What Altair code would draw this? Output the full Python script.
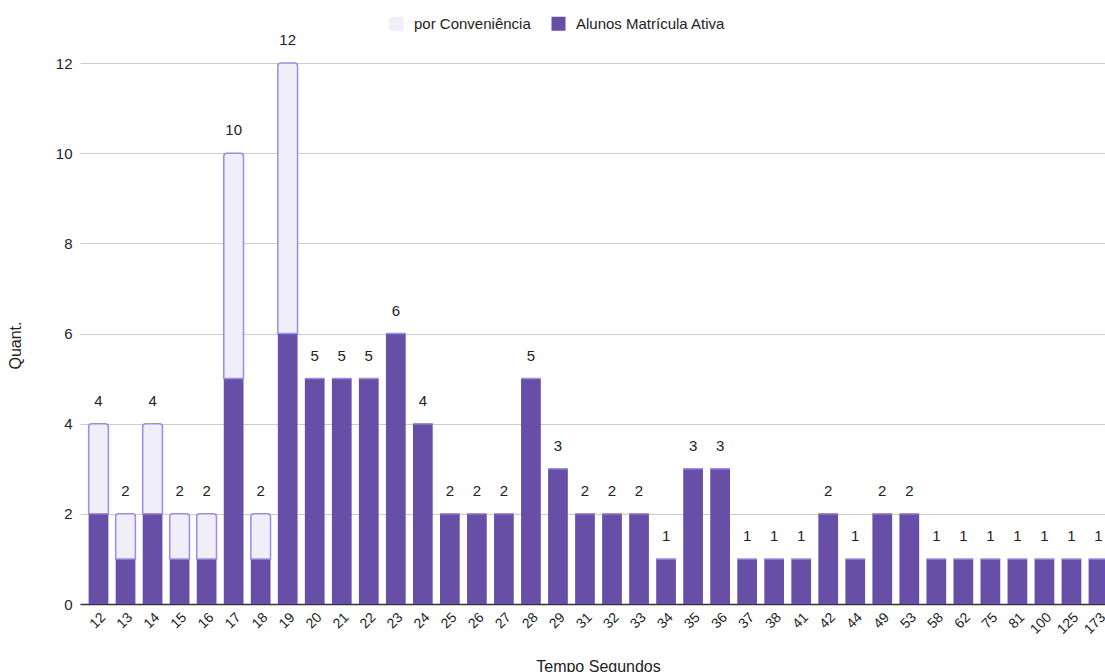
import altair as alt
import pandas as pd

# Response time (seconds) per category
tempo = ["12", "13", "14", "15", "16", "17", "18", "19", "20", "21", "22", "23",
         "24", "25", "26", "27", "28", "29", "31", "32", "33", "34", "35", "36",
         "37", "38", "41", "42", "44", "49", "53", "58", "62", "75", "81", "100",
         "125", "173"]
# Students with active enrolment
ativa = [2, 1, 2, 1, 1, 5, 1, 6, 5, 5, 5, 6,
         4, 2, 2, 2, 5, 3, 2, 2, 2, 1, 3, 3,
         1, 1, 1, 2, 1, 2, 2, 1, 1, 1, 1, 1,
         1, 1]
# Convenience sample
conveniencia = [2, 1, 2, 1, 1, 5, 1, 6, 0, 0, 0, 0,
                0, 0, 0, 0, 0, 0, 0, 0, 0, 0, 0, 0,
                0, 0, 0, 0, 0, 0, 0, 0, 0, 0, 0, 0,
                0, 0]

series_names = ["por Conveniência", "Alunos Matrícula Ativa"]
DARK = "#674ea7"
LIGHT = "#f0eef8"
EDGE = "#9f88ee"
FONT = "Liberation Sans"
INK = "#222222"

df = pd.DataFrame({
    "tempo": tempo,
    "ativa": ativa,
    "conv": conveniencia,
})
df["total"] = df["ativa"] + df["conv"]
df["s_ativa"] = series_names[1]
df["s_conv"] = series_names[0]

x_enc = alt.X(
    "tempo:N",
    sort=tempo,
    scale=alt.Scale(range=[0, 1037], paddingInner=0.27, paddingOuter=0.32),
    axis=alt.Axis(
        title="Tempo Segundos",
        labelAngle=-45,
        labelFont=FONT,
        labelFontSize=14,
        labelColor=INK,
        labelPadding=6,
        ticks=False,
        domainColor="#333333",
        domainWidth=1.5,
        titleFont=FONT,
        titleFontSize=16,
        titleFontWeight="normal",
        titleColor=INK,
        titleX=518,
        titleY=62,
        titleBaseline="middle",
    ),
)

color_scale = alt.Scale(domain=series_names, range=[LIGHT, DARK])
legend = alt.Legend(
    title=None,
    orient="none",
    direction="horizontal",
    legendX=309,
    legendY=-47,
    symbolType="square",
    symbolSize=196,
    symbolStrokeWidth=0,
    labelFont=FONT,
    labelFontSize=15,
    labelColor=INK,
    labelOffset=10,
    columnPadding=20,
)

y_scale = alt.Scale(domain=[0, 12], nice=False)
y_axis = alt.Axis(
    title="Quant.",
    values=[0, 2, 4, 6, 8, 10, 12],
    labelFont=FONT,
    labelFontSize=15,
    labelColor=INK,
    labelPadding=8,
    ticks=False,
    domain=False,
    gridColor="#cccccc",
    titleFont=FONT,
    titleFontSize=16,
    titleFontWeight="normal",
    titleColor=INK,
    titleX=-65,
    titleY=282,
    titleAngle=-90,
    titleAlign="center",
    titleBaseline="middle",
)

base = alt.Chart(df)

dark_bars = base.mark_bar(fill=DARK).encode(
    x=x_enc,
    y=alt.Y("ativa:Q", scale=y_scale, axis=y_axis),
    color=alt.Color("s_ativa:N", scale=color_scale, legend=legend),
)

light_bars = base.mark_bar(
    stroke=EDGE,
    strokeWidth=1.5,
    cornerRadiusTopLeft=3,
    cornerRadiusTopRight=3,
).encode(
    x=alt.X("tempo:N", sort=tempo),
    y=alt.Y("total:Q"),
    y2=alt.Y2("ativa:Q"),
    color=alt.Color("s_conv:N", scale=color_scale, legend=legend),
)

labels = base.mark_text(
    font=FONT,
    fontSize=15,
    color=INK,
    baseline="middle",
    dy=-23,
).encode(
    x=alt.X("tempo:N", sort=tempo),
    y=alt.Y("total:Q"),
    text=alt.Text("total:Q"),
)

chart = (
    alt.layer(dark_bars, light_bars, labels)
    .properties(
        width=1025,
        height=541,
        autosize=alt.AutoSizeParams(type="none"),
        padding={"left": 80, "top": 63, "right": 0, "bottom": 68},
        background="white",
    )
    .configure_view(stroke=None)
)

chart.save("out.html", embed_options={"renderer": "svg", "actions": False})
